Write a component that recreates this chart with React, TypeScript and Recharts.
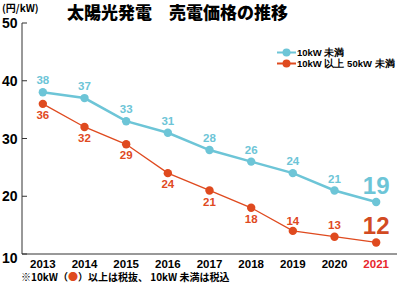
import React from 'react';
import { LineChart, Line, XAxis, YAxis, LabelList } from 'recharts';

const years = ['2013', '2014', '2015', '2016', '2017', '2018', '2019', '2020', '2021'];
const under10 = [38, 37, 33, 31, 28, 26, 24, 21, 19];
const from10to50 = [36, 32, 29, 24, 21, 18, 14, 13, 12];
const yTicks = [10, 20, 30, 40, 50];

const TEAL = '#6dc5d7';
const RED = '#df4a1f';
const FONT = '"Liberation Sans", Arial, sans-serif';
const CJK = '"Noto Sans CJK JP", sans-serif';

const data = years.map((y, i) => ({ year: y, a: under10[i], b: from10to50[i] }));

const YTick = (props: any) => {
  const { y, payload } = props;
  const dy = payload.value === 10 ? 4 : 0;
  return (
    <g>
      <line x1={22} x2={27} y1={y} y2={y} stroke="#333" strokeWidth={1} />
      <text x={2} y={y + dy} dy="0.36em" fontSize={14} fontWeight="bold" fontFamily={FONT} fill="#000">
        {payload.value}
      </text>
    </g>
  );
};

const XTick = (props: any) => {
  const { x, payload } = props;
  return (
    <text x={x} y={264} dy="0.36em" textAnchor="middle" fontSize={11.5} fontWeight="bold" fontFamily={FONT}
      fill={payload.value === '2021' ? '#e8262d' : '#000'}>
      {payload.value}
    </text>
  );
};

const makeLabel = (color: string, series: 'a' | 'b') => (props: any) => {
  const { x, y, value, index } = props;
  const last = index === years.length - 1;
  if (last) {
    return (
      <text x={x} y={y - 17} dy="0.36em" textAnchor="middle" fontSize={24}
        fontWeight="bold" fontFamily={FONT} fill={series === 'a' ? TEAL : '#d24a22'}>
        {value}
      </text>
    );
  }
  let off = -12;
  if (series === 'b') off = index === 6 ? -10 : index === 7 ? -12 : 11;
  return (
    <text x={x} y={y + off} dy="0.36em" textAnchor="middle" fontSize={11.5} fontWeight="bold" fontFamily={FONT} fill={color}>
      {value}
    </text>
  );
};

const legendItems = [{ c: TEAL, t: '10kW 未満' }, { c: RED, t: '10kW 以上 50kW 未満' }];

export default function App() {
  return (
    <div style={{ position: 'absolute', left: 0, top: 0, width: 399, height: 283, background: '#fff', overflow: 'hidden' }}>
      <LineChart width={399} height={283} data={data} margin={{ top: 23, right: 2, bottom: 9, left: 0 }}>
        <XAxis dataKey="year" scale="band" tick={<XTick />} tickLine={false} axisLine={{ stroke: '#333' }} height={20}
          interval={0} />
        <YAxis domain={[10, 50]} ticks={yTicks} tick={<YTick />} tickLine={false} axisLine={{ stroke: '#333' }}
          width={22} interval={0} />
        <Line type="linear" dataKey="a" stroke={TEAL} strokeWidth={2.5} dot={{ r: 4.2, fill: TEAL, stroke: 'none' }}
          isAnimationActive={false}>
          <LabelList dataKey="a" content={makeLabel(TEAL, 'a')} />
        </Line>
        <Line type="linear" dataKey="b" stroke={RED} strokeWidth={1.3} dot={{ r: 4.2, fill: RED, stroke: 'none' }}
          isAnimationActive={false}>
          <LabelList dataKey="b" content={makeLabel(RED, 'b')} />
        </Line>
      </LineChart>
      <div style={{ position: 'absolute', left: 277, top: 46.5, fontFamily: FONT, fontWeight: 'bold', fontSize: 9.5, lineHeight: '11px', color: '#000' }}>
        {legendItems.map((it) => (
          <div key={it.t} style={{ display: 'flex', alignItems: 'center', height: 11 }}>
            <svg width={19} height={11} style={{ marginRight: 1 }}>
              <line x1={0} x2={19} y1={5.5} y2={5.5} stroke={it.c} strokeWidth={2} />
              <circle cx={9.5} cy={5.5} r={4} fill={it.c} />
            </svg>
            <span style={{ whiteSpace: 'nowrap' }}>{it.t}</span>
          </div>
        ))}
      </div>
      <div style={{ position: 'absolute', left: 2, top: 2, fontFamily: CJK, fontWeight: 'bold', fontSize: 10, lineHeight: '12px' }}>
        (円/kW)
      </div>
      <div style={{ position: 'absolute', left: 67, top: 0, fontFamily: CJK, fontWeight: 900, fontSize: 17, lineHeight: '24px', whiteSpace: 'nowrap' }}>
        太陽光発電　売電価格の推移
      </div>
      <div style={{ position: 'absolute', left: 21, top: 271, fontFamily: CJK, fontWeight: 'bold', fontSize: 10, lineHeight: '12px', whiteSpace: 'nowrap' }}>
        ※10kW（<span style={{ color: RED }}>●</span>）以上は税抜、 10kW 未満は税込
      </div>
    </div>
  );
}
